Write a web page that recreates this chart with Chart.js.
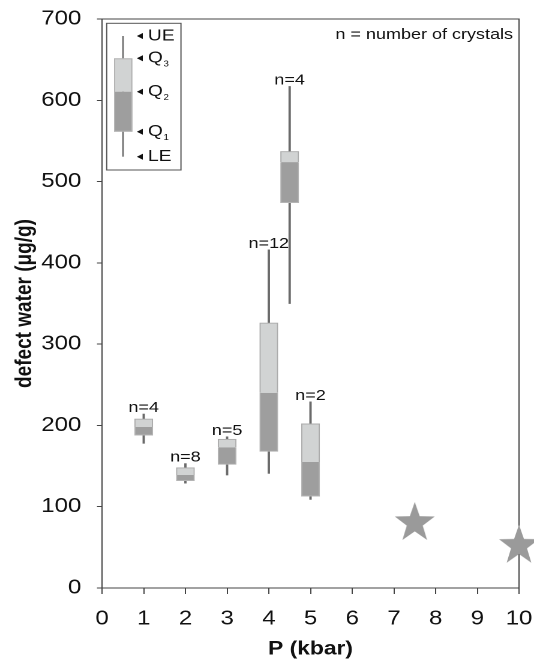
<!DOCTYPE html>
<html><head><meta charset="utf-8">
<script src="https://cdn.jsdelivr.net/npm/chart.js@4.4.1/dist/chart.umd.min.js"></script>
<style>
html,body{margin:0;padding:0;background:#fff;overflow:hidden;}
#wrap{width:534px;height:659px;}
#c{width:534px !important;height:659px !important;display:block;}
</style></head><body>
<div id="wrap"><canvas id="c" width="445" height="659"></canvas></div>
<script>
// ---- data ----
const pressures     = [1, 2, 3, 4, 4.5, 5];
const nCrystals     = [4, 8, 5, 12, 4, 2];
const lowerExtreme  = [178, 129, 139, 141, 350, 109];
const q1            = [188, 132, 152, 168, 474, 113];
const median        = [198, 139, 173, 240, 524, 155];
const q3            = [208, 148, 183, 326, 537, 202];
const upperExtreme  = [214, 153, 186, 416, 617, 229];
const starPressure  = [7.5, 10];
const starWater     = [80, 52];
const keyLabels     = ['UE', 'Q3', 'Q2', 'Q1', 'LE'];

// ---- layout / style ----
const SX = 1.2; // horizontal stretch applied to the canvas via CSS
const FONT = "'Liberation Sans', Arial, sans-serif";
const INK = '#111';
const AXIS = '#444';

function makeStar() {
  const R = 21, k = 4;
  const w = Math.ceil(2 * R * Math.sin(2 * Math.PI / 5) / SX) + 2;
  const h = Math.ceil(2 * R) + 2;
  const cv = document.createElement('canvas');
  cv.width = w * k; cv.height = h * k;
  const g = cv.getContext('2d');
  g.scale(k, k); g.translate(w / 2, h / 2); g.scale(1 / SX, 1);
  g.beginPath();
  for (let i = 0; i < 10; i++) {
    const r = i % 2 ? R * 0.40 : R;
    const a = -Math.PI / 2 + i * Math.PI / 5;
    g.lineTo(r * Math.cos(a), r * Math.sin(a));
  }
  g.closePath(); g.fillStyle = '#9a9a9a'; g.fill();
  const img = new Image();
  img.width = w; img.height = h;
  return {img, src: cv.toDataURL()};
}

const framePlugin = {
  id: 'frame',
  beforeDatasetsDraw(chart) {
    const {ctx, chartArea: a} = chart;
    ctx.save();
    ctx.strokeStyle = AXIS; ctx.lineWidth = 1;
    ctx.beginPath();
    ctx.moveTo(a.left, a.top); ctx.lineTo(a.right, a.top); ctx.lineTo(a.right, a.bottom);
    ctx.stroke();
    ctx.restore();
  }
};

const labelPlugin = {
  id: 'nlabels',
  afterDatasetsDraw(chart) {
    const {ctx, scales: {x, y}, chartArea: a} = chart;
    ctx.save();
    ctx.fillStyle = INK;
    ctx.font = '15px ' + FONT;
    ctx.textAlign = 'center'; ctx.textBaseline = 'alphabetic';
    pressures.forEach((p, i) => {
      ctx.fillText('n=' + nCrystals[i], x.getPixelForValue(p), y.getPixelForValue(upperExtreme[i]) - 2);
    });
    ctx.textAlign = 'right'; ctx.textBaseline = 'middle';
    ctx.fillText('n = number of crystals', a.right - 5, a.top + 16);
    ctx.restore();
  }
};

const keyPlugin = {
  id: 'boxkey',
  afterDraw(chart) {
    const {ctx, chartArea: a} = chart;
    const L = a.left, T = a.top;
    ctx.save();
    ctx.strokeStyle = '#555'; ctx.lineWidth = 1;
    ctx.strokeRect(L + 3.9, T + 4.3, 61.9, 146.7);
    const yUE = T + 17, yQ3 = T + 39.3, yQ2 = T + 72.7, yQ1 = T + 112.7, yLE = T + 137.7;
    ctx.strokeStyle = '#6a6a6a'; ctx.lineWidth = 1.3;
    ctx.beginPath(); ctx.moveTo(L + 17.5, yUE); ctx.lineTo(L + 17.5, yLE); ctx.stroke();
    ctx.fillStyle = '#d1d3d3'; ctx.fillRect(L + 10, yQ3, 15.3, yQ2 - yQ3);
    ctx.fillStyle = '#9e9e9e'; ctx.fillRect(L + 10, yQ2, 15.3, yQ1 - yQ2);
    ctx.strokeStyle = '#b4b4b4'; ctx.lineWidth = 1;
    ctx.strokeRect(L + 10.5, yQ3 + 0.5, 14.3, yQ1 - yQ3 - 1);
    const ys = [yUE, yQ3, yQ2, yQ1, yLE];
    ys.forEach((yy, i) => {
      ctx.fillStyle = INK;
      ctx.beginPath();
      ctx.moveTo(L + 29, yy); ctx.lineTo(L + 34, yy - 3); ctx.lineTo(L + 34, yy + 3); ctx.closePath(); ctx.fill();
      const lab = keyLabels[i];
      ctx.textAlign = 'left'; ctx.textBaseline = 'middle';
      ctx.font = '16px ' + FONT;
      if (lab[0] === 'Q') {
        ctx.fillText('Q', L + 38.3, yy);
        const wq = ctx.measureText('Q').width;
        ctx.font = '8px ' + FONT;
        ctx.fillText(lab[1], L + 38.3 + wq + 0.5, yy + 6);
      } else {
        ctx.fillText(lab, L + 38.3, yy);
      }
    });
    ctx.restore();
  }
};

function build(starImg) {
  const seg = (lo, hi) => pressures.map((p, i) => ({x: p, y: [lo[i], hi[i]]}));
  new Chart(document.getElementById('c'), {
    type: 'bar',
    data: {
      datasets: [
        {label: 'Q1–Q2', data: seg(q1, median), backgroundColor: '#9e9e9e', borderColor: '#b4b4b4',
         borderWidth: 1, borderSkipped: 'top', barThickness: 15, grouped: false},
        {label: 'Q2–Q3', data: seg(median, q3), backgroundColor: '#d1d3d3', borderColor: '#ababab',
         borderWidth: 1, borderSkipped: 'bottom', barThickness: 15, grouped: false},
        {label: 'lower whisker', data: seg(lowerExtreme, q1), backgroundColor: '#6a6a6a',
         borderWidth: 0, barThickness: 1.3, grouped: false},
        {label: 'upper whisker', data: seg(q3, upperExtreme), backgroundColor: '#6a6a6a',
         borderWidth: 0, barThickness: 1.3, grouped: false},
        {type: 'scatter', label: 'stars', data: starPressure.map((p, i) => ({x: p, y: starWater[i]})),
         pointStyle: starImg, pointRadius: 20, clip: false}
      ]
    },
    options: {
      responsive: false, animation: false, devicePixelRatio: 2,
      layout: {autoPadding: false, padding: {left: 0, right: 12.5, top: 19, bottom: 0}},
      plugins: {legend: {display: false}, tooltip: {enabled: false}},
      scales: {
        x: {
          type: 'linear', position: 'bottom', min: 0, max: 10, offset: false,
          ticks: {stepSize: 1, font: {family: FONT, size: 20}, color: INK, padding: 13, maxRotation: 0, autoSkip: false},
          grid: {display: true, drawOnChartArea: false, drawTicks: true, tickLength: 6, tickColor: AXIS, lineWidth: 1, offset: false},
          border: {display: true, color: AXIS, width: 1},
          title: {display: true, text: 'P (kbar)', font: {family: FONT, size: 19, weight: 'bold', lineHeight: 1.0}, color: INK, padding: {top: 0, bottom: 0}},
          afterFit(s) { s.height = 71; s.paddingLeft = 0; s.paddingRight = 0; }
        },
        y: {
          type: 'linear', position: 'left', min: 0, max: 700,
          ticks: {stepSize: 100, font: {family: FONT, size: 20}, color: INK, padding: 13},
          grid: {display: true, drawOnChartArea: false, drawTicks: true, tickLength: 4.2, tickColor: AXIS, lineWidth: 1},
          border: {display: true, color: AXIS, width: 1},
          title: {display: true, text: 'defect water (μg/g)', font: {family: FONT, size: 19, weight: 'bold'}, color: INK, padding: {top: 9.5, bottom: 0}},
          afterFit(s) { s.width = 85; s.paddingTop = 0; s.paddingBottom = 0; }
        }
      }
    },
    plugins: [framePlugin, labelPlugin, keyPlugin]
  });
}

const star = makeStar();
star.img.onload = () => build(star.img);
star.img.src = star.src;
</script>
</body></html>
